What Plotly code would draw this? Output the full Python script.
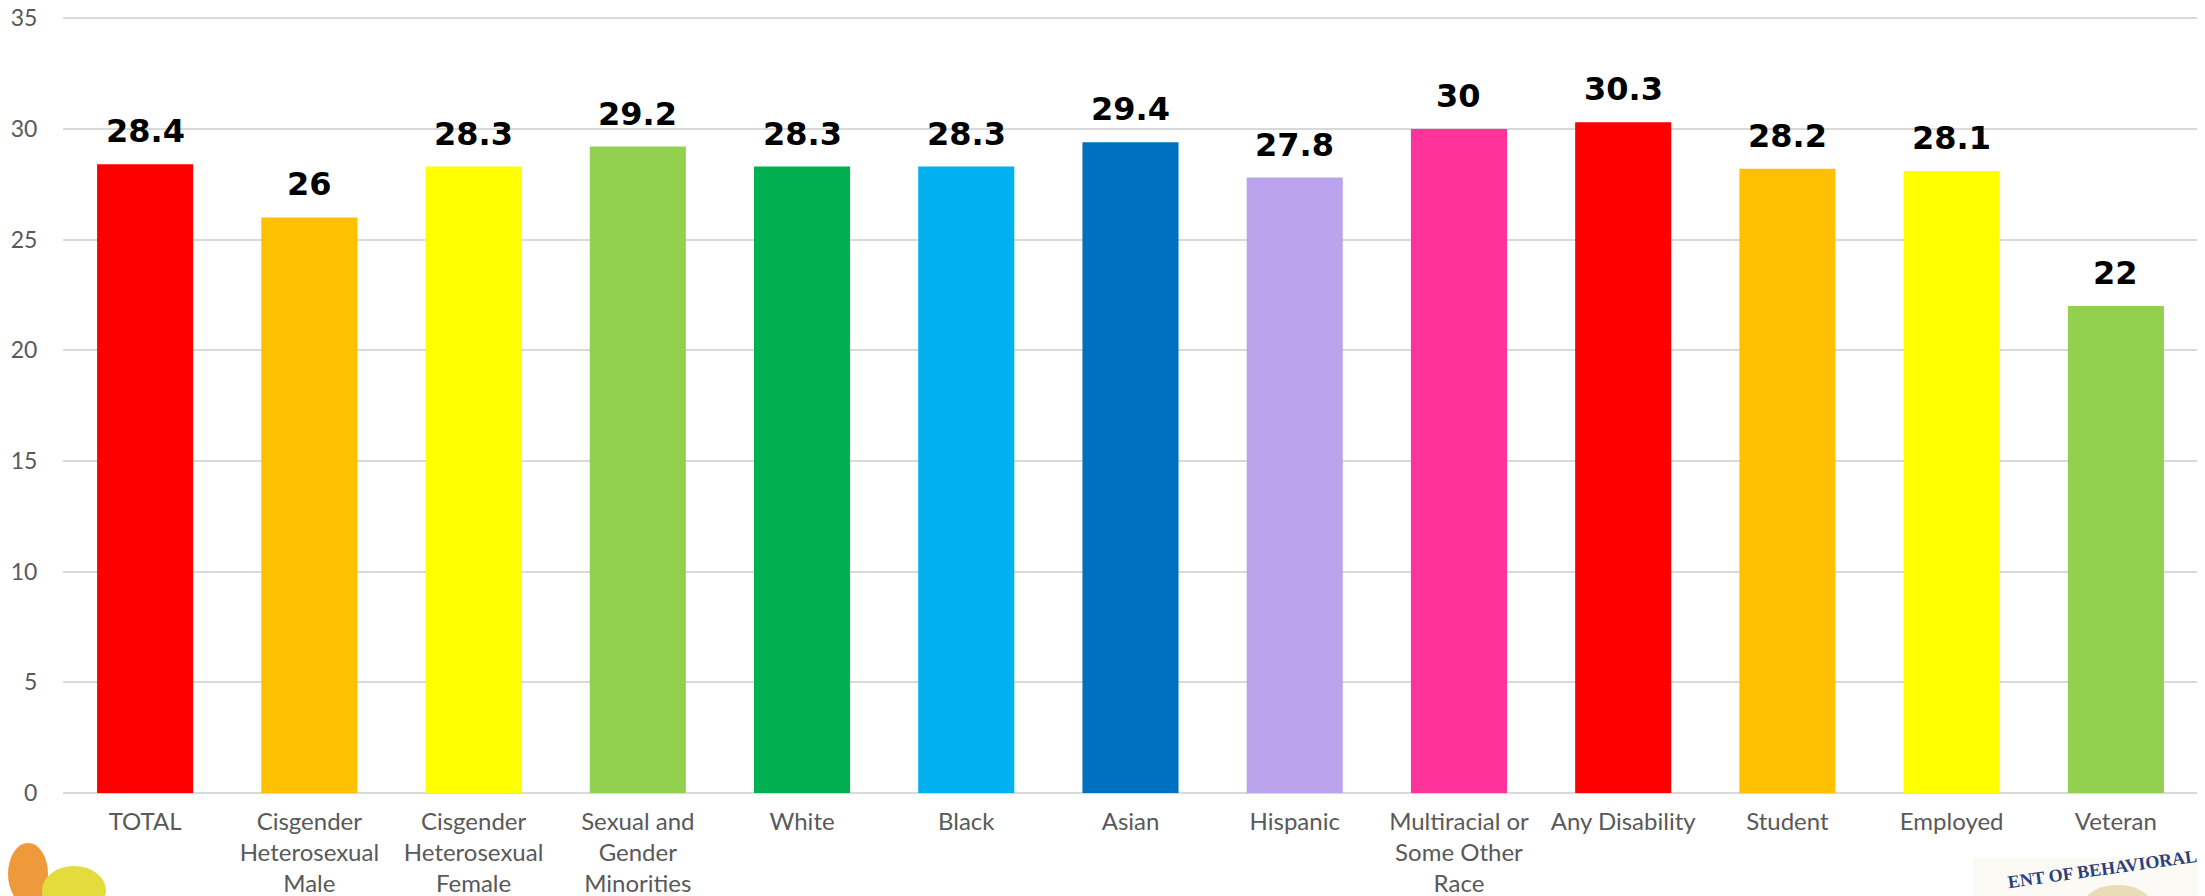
import plotly.graph_objects as go

categories = ["TOTAL", "Cisgender<br>Heterosexual<br>Male", "Cisgender<br>Heterosexual<br>Female",
              "Sexual and<br>Gender<br>Minorities", "White", "Black", "Asian", "Hispanic",
              "Multiracial or<br>Some Other<br>Race", "Any Disability", "Student", "Employed", "Veteran"]
values = [28.4, 26, 28.3, 29.2, 28.3, 28.3, 29.4, 27.8, 30, 30.3, 28.2, 28.1, 22]
colors = ["#FF0000", "#FFC000", "#FFFF00", "#92D050", "#00B050", "#00B0F0", "#0070C0",
          "#BBA3EE", "#FF3399", "#FF0000", "#FFC000", "#FFFF00", "#92D050"]
y_ticks = [0, 5, 10, 15, 20, 25, 30, 35]

# page has an 8px body margin; figure sized to fill the visible window
OFF = 8
W, H = 2205 - OFF, 896 - OFF
L, T = 63 - OFF, 16 - OFF
R = W - (2198 - OFF)
B = H - (793 - OFF)

fig = go.Figure(go.Bar(x=categories, y=values, marker=dict(color=colors, line=dict(width=0)),
                       hoverinfo="x+y"))

for c, v in zip(categories, values):
    fig.add_annotation(x=c, y=v, text=f"<b>{v:g}</b>", showarrow=False, yanchor="bottom",
                       yshift=12, font=dict(family="DejaVu Sans", size=32, color="black"))

pw, ph = W - L - R, H - T - B
def px(x):  # page x -> paper
    return (x - OFF - L) / pw
def py(y):  # page y -> paper
    return (H - B - (y - OFF)) / ph

# bottom-left logo petals
fig.add_shape(type="circle", xref="paper", yref="paper", x0=px(8), x1=px(48), y0=py(905), y1=py(843),
              fillcolor="#EE9A3A", line=dict(width=0), layer="above")
fig.add_shape(type="circle", xref="paper", yref="paper", x0=px(42), x1=px(106), y0=py(915), y1=py(866),
              fillcolor="#E3DC3C", line=dict(width=0), layer="above")
# bottom-right seal
fig.add_shape(type="rect", xref="paper", yref="paper", x0=px(1973), x1=px(2210), y0=py(900), y1=py(857),
              fillcolor="#FBFAF4", line=dict(width=0), layer="above")
fig.add_shape(type="circle", xref="paper", yref="paper", x0=px(2085), x1=px(2150), y0=py(920), y1=py(885),
              fillcolor="#E9DDB8", line=dict(width=0), layer="above")
fig.add_annotation(xref="paper", yref="paper", x=px(2201), y=py(869), xanchor="right", yanchor="middle",
                   text="<b>ENT OF BEHAVIORAL</b>", showarrow=False, textangle=-8,
                   font=dict(family="Liberation Serif", size=18, color="#2D3F7C"))

fig.update_layout(
    width=W, height=H,
    margin=dict(l=L, r=R, t=T, b=B, pad=0),
    paper_bgcolor="white", plot_bgcolor="white",
    bargap=0.415, showlegend=False,
    font=dict(family="Lato", color="#595959"),
    xaxis=dict(tickfont=dict(size=24, color="#595959"), showline=False, ticks="outside", ticklen=7,
               tickcolor="rgba(0,0,0,0)", showgrid=False, automargin=False, fixedrange=True),
    yaxis=dict(range=[0, 35.1], tickvals=y_ticks, showgrid=True, gridcolor="#D9D9D9", gridwidth=2,
               zeroline=True, zerolinecolor="#D9D9D9", zerolinewidth=2, automargin=False,
               ticklabeloverflow="allow",
               tickfont=dict(size=23, color="#595959"), ticks="outside", ticklen=20,
               tickcolor="rgba(0,0,0,0)"),
)

fig.write_html("out.html")
